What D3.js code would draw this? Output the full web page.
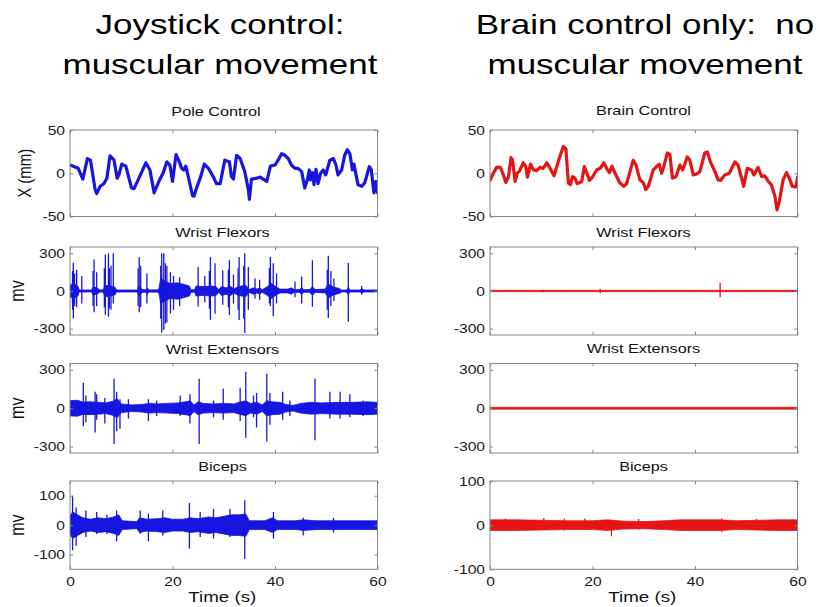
<!DOCTYPE html>
<html><head><meta charset="utf-8">
<script src="https://cdn.jsdelivr.net/npm/d3@7"></script>
<style>
body{margin:0;background:#fff}
svg{display:block}
text{font-family:"Liberation Sans",Arial,Helvetica,sans-serif;fill:#111}
</style>
</head><body>
<svg id="c" width="820" height="607"></svg>
<script>
// ---------------- DATA ----------------
const timeDomain = [0, 60];
const timeTicks = [0, 20, 40, 60];
const headings = [["Joystick control:", "muscular movement"], ["Brain control only:  no", "muscular movement"]];
const panelTitles = [["Pole Control", "Brain Control"], ["Wrist Flexors", "Wrist Flexors"], ["Wrist Extensors", "Wrist Extensors"], ["Biceps", "Biceps"]];
const yLabels = ["X (mm)", "mv", "mv", "mv"];
const yDomains = [[[-50, 50], [-50, 50]], [[-350, 350], [-350, 350]], [[-350, 350], [-350, 350]], [[-150, 150], [-100, 100]]];
const yTicks = [[[-50, 0, 50], [-50, 0, 50]], [[-300, 0, 300], [-300, 0, 300]], [[-300, 0, 300], [-300, 0, 300]], [[-100, 0, 100], [-100, 0, 100]]];
const xLabel = "Time (s)";

// Position of the controlled pole/cursor, X (mm) vs time (s)
const poleJoystick = [[0,9.5],[1.6,5.7],[2.5,-6.8],[3.4,17],[4.0,15.1],[4.9,-18.9],[5.2,-23.4],[5.9,-15.1],[6.6,-12.1],[7.2,-5.7],[7.8,20],[8.6,15.1],[9.2,-5.7],[9.6,-0.8],[10.1,10.6],[10.9,8.3],[12.0,-17],[12.5,-17.8],[13.3,-7.6],[14.8,12.1],[15.6,3.8],[16.3,-18.9],[16.4,-22.7],[17.2,-11.3],[18.2,0.8],[18.9,13.2],[19.5,9.5],[20.0,-9.5],[20.7,21.5],[21.2,15.1],[21.8,5.7],[22.2,3.8],[22.6,8.3],[23.1,-4.5],[23.9,-25.7],[24.2,-26.5],[24.8,-15.1],[25.4,-5.7],[26.2,10.6],[27.0,5.7],[28.0,-4.5],[28.6,-12.1],[29.3,-12.1],[30.2,15.1],[31.1,13.2],[31.5,-3.8],[31.9,-6.8],[32.5,20.8],[33.2,17],[34.1,1.9],[34.8,-18.9],[35.0,-30.2],[35.4,-6.8],[36.4,-5.7],[37.1,-4.5],[37.7,-6.8],[38.4,-9.5],[39.1,8.3],[40.0,9.5],[40.6,15.1],[41.3,22.7],[41.9,20.8],[42.6,17],[43.2,9.5],[43.9,5.7],[44.5,5.7],[45.2,1.9],[45.8,-17],[46.3,-7.6],[46.7,3.8],[46.9,-7.6],[47.3,0.8],[47.6,-13.2],[48.0,4.5],[48.4,-12.1],[48.9,0],[49.4,3.8],[49.9,-1.9],[50.7,15.1],[51.4,17],[51.9,9.5],[52.3,-1.9],[53.0,3.8],[53.6,20.8],[54.1,27.2],[54.6,22.7],[55.1,3.8],[55.4,10.6],[56.2,-13.2],[56.9,-15.1],[57.5,-11.3],[58.4,7.6],[58.8,3.8],[59.3,-22.7],[59.7,-9.5],[60.0,-22.7]];
const poleBrain = [[0,-8.3],[0.65,0],[1.3,6.8],[2.0,6.8],[2.5,0],[3.1,-10.6],[3.6,-4.5],[4.1,18.1],[4.4,15.1],[4.9,-9.5],[5.3,0],[5.7,1.9],[6.5,12.1],[7.0,7.6],[7.3,-4.5],[7.9,10.6],[8.5,3.8],[9.1,3],[9.75,6.8],[10.3,5.3],[11.1,12.1],[11.7,5.7],[12.5,-3],[13.5,17],[14.3,31],[14.8,28.4],[15.3,-11.3],[15.7,-13.2],[16.1,-3.8],[16.6,-5.7],[17.0,-12.1],[17.9,-9.5],[18.4,7.6],[18.9,0],[19.4,-8.3],[20.0,-4.5],[20.8,3.8],[21.5,5.7],[22.2,12.1],[22.75,5.7],[23.3,0.8],[23.8,8.3],[24.4,0],[25.35,-11.3],[26.1,-15.1],[26.65,-12.1],[27.95,15.1],[28.5,9.5],[29.25,-7.6],[29.9,-10.6],[30.4,-18.9],[30.9,-15.1],[31.85,3.8],[32.5,7.6],[33.0,10.6],[33.5,0],[33.9,7.6],[34.6,23.4],[35.1,21.9],[35.6,-5.7],[36.3,-3.8],[37.05,9.5],[37.6,3.8],[38.5,18.9],[39.0,15.1],[39.65,-1.9],[40.3,-0.8],[40.95,1.9],[41.9,23.4],[42.4,24.6],[43.0,13.2],[43.9,1.9],[44.5,-7.6],[45.0,-8.3],[45.8,-1.9],[46.7,0],[47.8,13.2],[48.4,9.5],[49.1,-5.7],[49.5,-15.1],[50.2,5.7],[51.0,3.8],[51.5,-1.9],[52.3,6.8],[53.0,-3.8],[53.6,-3],[54.3,-9.5],[54.9,-13.2],[55.6,-26.5],[56.0,-42.3],[56.4,-34],[57.2,-7.6],[57.85,0.8],[58.4,-5.7],[59.0,-15.1],[59.7,-15.9],[60.0,-4.5]];

// EMG envelopes [t, amplitude mV] and individual spikes [t, peak mV, trough mV]
const flexorsJoyEnv = [[0,40],[0.4,60],[1.2,50],[1.6,35],[1.8,8],[4.2,8],[4.5,35],[5.5,20],[5.8,8],[6.5,10],[6.8,45],[8,40],[8.8,30],[9.1,8],[13.2,8],[13.4,40],[14.1,12],[14.8,10],[15.1,25],[15.4,8],[17.3,10],[17.7,100],[18.6,80],[19.5,60],[21,65],[22.5,50],[23.3,40],[23.6,10],[24.3,10],[24.6,40],[26,35],[27.5,40],[28.5,35],[29,12],[29.6,35],[30.5,25],[31.2,40],[32,15],[32.8,35],[34.3,45],[35,12],[35.8,25],[36.5,15],[37,25],[37.5,10],[38.3,30],[39.3,60],[40.3,30],[41,15],[42.5,15],[43.2,25],[43.8,10],[44.8,12],[45.2,30],[45.6,10],[46.8,12],[47.3,35],[47.8,12],[49.8,15],[50.4,55],[51.5,30],[52.6,20],[53,8],[54,8],[54.3,30],[54.6,8],[56.5,8],[57,15],[57.5,8],[60,8]];
const flexorsJoySpikes = [[0.5,160,-150],[0.65,225,-217],[0.9,140,-120],[1.3,170,-130],[2.3,120,-100],[4.5,160,-120],[4.7,250,-170],[5.2,150,-120],[6.7,180,-130],[6.9,290,-190],[7.5,300,-205],[7.7,180,-140],[8.0,200,-150],[8.45,300,-100],[13.3,180,-120],[13.5,270,-170],[13.8,200,-130],[15.0,140,-100],[17.7,200,-220],[17.9,300,-330],[18.3,300,-310],[18.6,220,-260],[18.9,200,-250],[19.6,150,-180],[20.2,120,-150],[21.4,110,-120],[25.0,190,-125],[26.3,120,-90],[27.2,160,-140],[27.4,270,-230],[28.3,220,-180],[29.8,165,-110],[30.9,170,-130],[31.1,245,-190],[31.9,130,-100],[32.8,180,-150],[33.0,270,-230],[33.9,200,-220],[34.1,300,-335],[34.8,190,-150],[36.1,100,-60],[37.0,90,-70],[38.9,180,-100],[39.1,270,-120],[39.65,220,-200],[40.3,140,-100],[43.9,75,-50],[45.2,115,-100],[47.3,245,-125],[50.2,170,-150],[50.4,280,-215],[50.9,160,-120],[51.5,100,-80],[54.3,225,-245],[56.9,40,-30]];
const extensorsJoyEnv = [[0,60],[1.5,62],[2.5,48],[4,50],[5.5,46],[7,42],[8.3,55],[9.2,75],[10,34],[11,30],[12,26],[14,30],[15.5,38],[17,34],[19,38],[21,42],[22.5,50],[23.5,58],[24.2,26],[25,50],[26,38],[28,34],[30,38],[32,34],[33,46],[34.3,58],[35.2,38],[36.5,46],[37.5,26],[38.4,58],[39.5,50],[41,46],[42,30],[43.5,22],[45,38],[47,46],[49,42],[52,46],[55,46],[58,50],[60,46]];
const extensorsJoySpikes = [[2.6,200,-140],[3.1,100,-110],[4.9,130,-190],[5.2,110,-90],[6.8,80,-120],[8.6,230,-280],[9.1,130,-180],[9.75,70,-160],[11.4,70,-80],[15.3,70,-100],[16.9,60,-60],[21.5,100,-60],[23.4,110,-120],[25.2,230,-280],[28.0,60,-70],[29.9,155,-90],[33.2,160,-100],[34.3,285,-230],[35.8,100,-70],[36.4,120,-150],[38.4,270,-260],[39.0,120,-130],[41.5,130,-90],[42.9,60,-60],[47.8,230,-250],[50.7,130,-80],[52.7,130,-80],[54.6,110,-70],[57.2,60,-60]];
const bicepsJoyEnv = [[0,30],[0.5,45],[1.5,35],[2.5,25],[4,20],[5.5,25],[7,22],[8.5,28],[9.5,35],[10.2,15],[13,12],[13.6,25],[15,20],[17,22],[18.5,25],[20,20],[22,20],[23.5,25],[25,22],[27,28],[28.5,25],[30,30],[31.5,35],[33,35],[34.3,38],[35,15],[38,15],[39.5,25],[40.5,15],[44,15],[45.5,18],[48,15],[51,15],[55,15],[58,15],[60,15]];
const bicepsJoySpikes = [[0.5,100,-85],[1.2,60,-70],[3.1,50,-40],[5.2,45,-30],[7.2,35,-30],[9.1,50,-55],[13.7,50,-30],[15.3,40,-55],[18.1,50,-35],[23.3,75,-80],[25.4,45,-40],[28.0,55,-45],[31.2,55,-40],[34.1,85,-115],[39.7,45,-45],[45.5,25,-35],[51.4,25,-25]];
const flexorsBrainEnv = [[0,5],[60,5]];
const flexorsBrainSpikes = [[10.3,10,-10],[14,8,-8],[21.5,18,-18],[22.5,10,-8],[32,8,-8],[40,8,-8],[44.9,65,-50],[50,8,-8]];
const extensorsBrainEnv = [[0,7],[60,7]];
const extensorsBrainSpikes = [];
const bicepsBrainEnv = [[0,12],[5,12],[10,11],[15,10],[20,10],[23,12],[26,9],[30,8],[34,10],[37,12],[40,12],[45,12],[48,10],[52,11],[56,12],[60,12]];
const bicepsBrainSpikes = [[3,15,-12],[10.5,16,-10],[14.5,15,-12],[18.5,15,-10],[23.7,5,-25],[29,14,-10],[45.2,15,-15],[52,14,-10]];

// ---------------- LAYOUT ----------------
const SX = 1.25;       // horizontal text stretch of the original figure
const svg = d3.select("#c");
const columns = [
  {x0: 70, x1: 377.5, color: "#1616e0", titleCx: 222.5},
  {x0: 490, x1: 797.5, color: "#e61515", titleCx: 643.5}
];
const rows = [
  {top: 130, h: 86.5, titleY: [115.5, 114.5]},
  {top: 247, h: 88, titleY: [236.5, 236.5]},
  {top: 363.5, h: 89.5, titleY: [353.5, 353]},
  {top: 481, h: 88.3, titleY: [470.5, 470.5]}
];
const series = [
  [{line: poleJoystick}, {line: poleBrain}],
  [{env: flexorsJoyEnv, spikes: flexorsJoySpikes}, {env: flexorsBrainEnv, spikes: flexorsBrainSpikes}],
  [{env: extensorsJoyEnv, spikes: extensorsJoySpikes}, {env: extensorsBrainEnv, spikes: extensorsBrainSpikes}],
  [{env: bicepsJoyEnv, spikes: bicepsJoySpikes}, {env: bicepsBrainEnv, spikes: bicepsBrainSpikes}]
];
const frameColor = "#858585";

function stretchAxisText(sel) {
  sel.selectAll("text").each(function () {
    const t = d3.select(this);
    const x = +t.attr("x") || 0;
    t.attr("transform", `translate(${x},0) scale(${SX},1) translate(${-x},0)`);
  });
}
function hText(g, str, cx, cy, size, anchor) {
  return g.append("text").text(str)
    .attr("transform", `translate(${cx},${cy}) scale(${SX},1)`)
    .attr("text-anchor", anchor || "middle")
    .style("font-size", size + "px")
    .style("white-space", "pre");
}

// Headings
const headCx = [220, 645];
headings.forEach((lines, c) => {
  hText(svg, lines[0], headCx[c], 34, 28).style("fill", "#000");
  hText(svg, lines[1], headCx[c], 74, 28).style("fill", "#000");
});

const defs = svg.append("defs");

rows.forEach((row, r) => {
  columns.forEach((col, c) => {
    const g = svg.append("g");
    const x = d3.scaleLinear().domain(timeDomain).range([col.x0, col.x1]);
    const y = d3.scaleLinear().domain(yDomains[r][c]).range([row.top + row.h, row.top]);
    const id = `clip${r}${c}`;
    defs.append("clipPath").attr("id", id).append("rect")
      .attr("x", col.x0).attr("y", row.top).attr("width", col.x1 - col.x0).attr("height", row.h);
    const plot = g.append("g").attr("clip-path", `url(#${id})`);
    const s = series[r][c];
    if (s.line) {
      plot.append("path").datum(s.line)
        .attr("fill", "none").attr("stroke", col.color).attr("stroke-width", 3.2)
        .attr("stroke-linejoin", "round").attr("stroke-linecap", "round")
        .attr("d", d3.line().x(d => x(d[0])).y(d => y(d[1])));
    } else {
      plot.append("path").datum(s.env)
        .attr("fill", col.color).attr("stroke", col.color).attr("stroke-width", 0.8)
        .attr("d", d3.area().x(d => x(d[0])).y0(d => y(-d[1])).y1(d => y(d[1])));
      plot.selectAll("line.sp").data(s.spikes).join("line").attr("class", "sp")
        .attr("x1", d => x(d[0])).attr("x2", d => x(d[0]))
        .attr("y1", d => y(d[2])).attr("y2", d => y(d[1]))
        .attr("stroke", col.color).attr("stroke-width", 1.3);
    }
    // frame
    g.append("rect").attr("x", col.x0).attr("y", row.top)
      .attr("width", col.x1 - col.x0).attr("height", row.h)
      .attr("fill", "none").attr("stroke", frameColor).attr("stroke-width", 1);
    // axes (inward ticks, MATLAB style)
    const fmt = d => String(d);
    const ax = [
      g.append("g").attr("transform", `translate(${col.x0},0)`)
        .call(d3.axisLeft(y).tickValues(yTicks[r][c]).tickSize(-3).tickPadding(5).tickFormat(fmt)),
      g.append("g").attr("transform", `translate(${col.x1},0)`)
        .call(d3.axisRight(y).tickValues(yTicks[r][c]).tickSize(-3).tickFormat("")),
      g.append("g").attr("transform", `translate(0,${row.top})`)
        .call(d3.axisTop(x).tickValues(timeTicks).tickSize(-3).tickFormat("")),
      g.append("g").attr("transform", `translate(0,${row.top + row.h})`)
        .call(d3.axisBottom(x).tickValues(timeTicks).tickSize(-3).tickPadding(7.5)
          .tickFormat(r === rows.length - 1 ? fmt : ""))
    ];
    ax.forEach(a => {
      a.select(".domain").remove();
      a.selectAll(".tick line").attr("stroke", frameColor);
      a.selectAll("text").style("font-size", "12.5px").style("fill", "#1a1a1a")
        .style("font-family", '"Liberation Sans",Arial,sans-serif');
      stretchAxisText(a);
    });
    // panel title
    const tcx = (r === 0 && c === 0) ? 216 : col.titleCx;
    hText(g, panelTitles[r][c], tcx, row.titleY[c], 13);
    // y label
    if (c === 0) {
      const bx = r === 0 ? 31 : 24;
      g.append("text").text(yLabels[r])
        .attr("transform", `translate(${bx},${row.top + row.h / 2}) rotate(-90) scale(1,${SX})`)
        .attr("text-anchor", "middle").style("font-size", (r === 0 ? 15 : 16) + "px");
    }
    // x label
    if (r === rows.length - 1) {
      hText(g, xLabel, (col.x0 + col.x1) / 2 - 1.5, 601.5, 15);
    }
  });
});
</script>
</body></html>
